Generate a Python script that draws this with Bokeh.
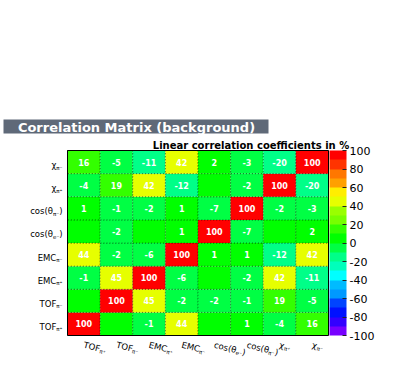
import math
from bokeh.plotting import figure
from bokeh.models import Range1d, ColumnDataSource, LinearColorMapper, ColorBar, FixedTicker
from bokeh.core.properties import value
from bokeh.embed import file_html
from bokeh.resources import INLINE

# ---------------- data ----------------
title_text = "Correlation Matrix (background)"
subtitle_text = "Linear correlation coefficients in %"

# variables, index 0 = bottom row / left column
var_main = ["TOF", "TOF", "EMC", "EMC", "cos(θ", "cos(θ", "χ", "χ"]
var_sub = ["π⁺", "π⁻", "π⁺", "π⁻", "e⁻", "π⁻", "π⁺", "π⁻"]
var_suffix = ["", "", "", "", ")", ")", "", ""]

# correlation matrix in %, rows bottom -> top, columns left -> right
corr = [
    [100, 0, -1, 44, 0, 1, -4, 16],
    [0, 100, 45, -2, -2, -1, 19, -5],
    [-1, 45, 100, -6, 0, -2, 42, -11],
    [44, -2, -6, 100, 1, 1, -12, 42],
    [0, -2, 0, 1, 100, -7, 0, 2],
    [1, -1, -2, 1, -7, 100, -2, -3],
    [-4, 19, 42, -12, 0, -2, 100, -20],
    [16, -5, -11, 42, 2, -3, -20, 100],
]

cbar_ticks = [-100, -80, -60, -40, -20, 0, 20, 40, 60, 80, 100]

palette = ["#7700FF", "#3300FF", "#0011FF", "#0044FF", "#0099FF", "#00BBFF",
           "#00FFFF", "#00FFBB", "#00FF88", "#00FF44", "#00FF00", "#33FF00",
           "#77FF00", "#99FF00", "#E6FF00", "#FFEE00", "#FFA000", "#FF7700",
           "#FF3300", "#FF0000"]

# ---------------- layout (canvas pixels) ----------------
W, H = 407, 374
FL, FT, FW, FH = 67, 150, 261, 185
n = len(var_main)
CW = FW / n
CH = FH / n
FONT = value("DejaVu Sans")


def dx(px):
    return (px - FL) / CW


def dy(py):
    return n - (py - FT) / CH


p = figure(width=W, height=H, x_range=Range1d(dx(0), dx(W)), y_range=Range1d(dy(H), dy(0)),
           output_backend="svg", toolbar_location=None, title=None,
           x_axis_location=None, y_axis_location=None, min_border=0,
           outline_line_color=None, background_fill_color="white", border_fill_color="white")
p.grid.visible = False

# title box
p.quad(left=[dx(3)], right=[dx(268)], top=[dy(119)], bottom=[dy(133)],
       fill_color="#5f6978", line_color=None)
p.text(x=[dx(136)], y=[dy(126.5)], text=[title_text], text_font=FONT,
       text_font_style="bold", text_font_size="13px", text_color="white",
       text_align="center", text_baseline="middle")
p.text(x=[dx(250.5)], y=[dy(144.5)], text=[subtitle_text], text_font=FONT,
       text_font_style="bold", text_font_size="10px", text_color="black",
       text_align="center", text_baseline="middle")

# cells
xs, ys, vs, ts = [], [], [], []
for i, row in enumerate(corr):
    for j, v in enumerate(row):
        xs.append(j + 0.5)
        ys.append(i + 0.5)
        vs.append(v)
        ts.append(str(v) if v != 0 else "")
src = ColumnDataSource(dict(x=xs, y=ys, v=vs, t=ts))
mapper = LinearColorMapper(palette=palette, low=-100, high=100)
p.rect("x", "y", 1, 1, source=src, fill_color={"field": "v", "transform": mapper},
       line_color="black", line_alpha=0.5, line_dash="1 2", line_width=1)
p.text("x", "y", text="t", source=src, text_font=FONT, text_font_style="bold",
       text_font_size="8px", text_color="white", text_align="center",
       text_baseline="middle")
p.rect(x=[n / 2], y=[n / 2], width=n, height=n, fill_color=None,
       line_color="black", line_width=1)

# axis labels
MAIN_FS, SUB_FS = "8.5px", "5.5px"
SUB_W, SUFFIX_W = 6.2, 3.3
main_w = {"TOF": 16.8, "EMC": 18.6, "cos(θ": 22.7, "χ": 5.3}

# y labels (right aligned block ending at x 62)
R = 62
for i in range(n):
    cy = FT + (n - i - 0.5) * CH
    sw = SUFFIX_W if var_suffix[i] else 0
    mr = R - sw - SUB_W
    p.text(x=[dx(mr)], y=[dy(cy + 3.0)], text=[var_main[i]], text_font=FONT,
           text_font_size=MAIN_FS, text_color="black", text_align="right",
           text_baseline="alphabetic")
    p.text(x=[dx(mr)], y=[dy(cy + 5.5)], text=[var_sub[i]], text_font=FONT,
           text_font_size=SUB_FS, text_color="black", text_align="left",
           text_baseline="alphabetic")
    if var_suffix[i]:
        p.text(x=[dx(R - sw)], y=[dy(cy + 3.0)], text=[var_suffix[i]], text_font=FONT,
               text_font_size=MAIN_FS, text_color="black", text_align="left",
               text_baseline="alphabetic")

# x labels (rotated clockwise)
th = math.radians(14.5)
c, s = math.cos(th), math.sin(th)
AY = 344.0
for j in range(n):
    ax = FL + (j + 0.5) * CW
    mw = main_w[var_main[j]]

    def pos(u, v):
        return dx(ax + u * c - v * s), dy(AY + u * s + v * c)

    x0, y0 = pos(0, 0)
    p.text(x=[x0], y=[y0], text=[var_main[j]], angle=-th, text_font=FONT,
           text_font_size=MAIN_FS, text_color="black", text_align="left",
           text_baseline="alphabetic")
    x1, y1 = pos(mw, 2.5)
    p.text(x=[x1], y=[y1], text=[var_sub[j]], angle=-th, text_font=FONT,
           text_font_size=SUB_FS, text_color="black", text_align="left",
           text_baseline="alphabetic")
    if var_suffix[j]:
        x2, y2 = pos(mw + SUB_W, 0)
        p.text(x=[x2], y=[y2], text=[var_suffix[j]], angle=-th, text_font=FONT,
               text_font_size=MAIN_FS, text_color="black", text_align="left",
               text_baseline="alphabetic")

# colour bar
cb = ColorBar(color_mapper=mapper, ticker=FixedTicker(ticks=cbar_ticks),
              location=(FL + FW + 1, H - FT - FH), width=17, height=FH, padding=0,
              label_standoff=3, major_label_text_font="DejaVu Sans",
              major_label_text_font_size="11px", major_label_text_color="black",
              major_label_overrides={t: str(t) for t in cbar_ticks},
              major_tick_in=4, major_tick_out=0, major_tick_line_color="#222222",
              minor_tick_line_color=None, bar_line_color=None,
              border_line_color=None, background_fill_alpha=0)
p.add_layout(cb)

open("out.html", "w").write(file_html(p, INLINE))
